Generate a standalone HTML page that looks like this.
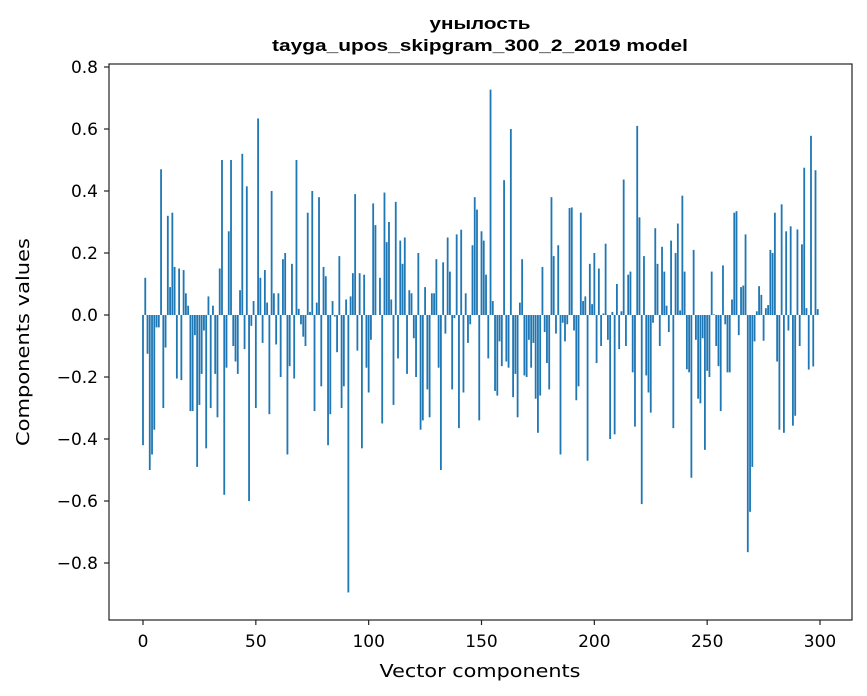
<!DOCTYPE html>
<html><head><meta charset="utf-8"><style>
html,body{margin:0;padding:0;background:#fff;}
svg{display:block;font-family:"DejaVu Sans","Liberation Sans",sans-serif;}
</style></head><body>
<svg id="s" width="867" height="696" viewBox="0 0 867 696" xmlns="http://www.w3.org/2000/svg">
<rect width="867" height="696" fill="#fff"/>
<g id="bars" fill="#1f77b4"></g>
<rect x="109" y="64" width="743" height="556" fill="none" stroke="#222" stroke-width="1.2"/>
<g id="ticks" stroke="#222" stroke-width="1.2"></g>
<g id="labels" font-size="17" fill="#000"></g>
<g font-family="Liberation Sans, Arial, sans-serif" font-weight="bold" font-size="16.5">
<text x="480" y="29" text-anchor="middle" textLength="101" lengthAdjust="spacingAndGlyphs">унылость</text>
<text x="480" y="51" text-anchor="middle" textLength="416" lengthAdjust="spacingAndGlyphs">tayga_upos_skipgram_300_2_2019 model</text>
</g>
<text x="480" y="677" text-anchor="middle" font-size="18" textLength="201" lengthAdjust="spacingAndGlyphs">Vector components</text>
<text transform="translate(29,342) rotate(-90)" text-anchor="middle" font-size="18" textLength="208" lengthAdjust="spacingAndGlyphs">Components values</text>
</svg>
<script>
var v=[-0.42,0.12,-0.125,-0.5,-0.45,-0.37,-0.04,-0.04,0.47,-0.3,-0.105,0.32,0.09,0.33,0.155,-0.205,0.15,-0.21,0.145,0.07,0.03,-0.31,-0.31,-0.065,-0.49,-0.29,-0.19,-0.05,-0.43,0.06,-0.3,0.03,-0.19,-0.33,0.15,0.5,-0.58,-0.17,0.27,0.5,-0.1,-0.15,-0.19,0.08,0.52,-0.11,0.415,-0.6,-0.035,0.045,-0.3,0.634,0.12,-0.09,0.145,0.04,-0.32,0.4,0.07,-0.095,0.07,-0.2,0.18,0.2,-0.45,-0.165,0.165,-0.205,0.5,0.02,-0.03,-0.07,-0.1,0.33,0.01,0.4,-0.31,0.04,0.38,-0.23,0.155,0.125,-0.42,-0.32,0.045,-0.005,-0.12,0.19,-0.3,-0.23,0.05,-0.895,0.06,0.135,0.39,-0.115,0.135,-0.43,0.13,-0.17,-0.25,-0.08,0.36,0.29,0,0.12,-0.35,0.395,0.235,0.3,0.05,-0.29,0.365,-0.14,0.24,0.165,0.25,-0.19,0.08,0.07,-0.075,-0.2,0.2,-0.37,-0.34,0.09,-0.24,-0.33,0.07,0.07,0.18,-0.17,-0.5,0.17,-0.06,0.25,0.14,-0.24,-0.01,0.26,-0.365,0.275,-0.25,0.07,-0.09,-0.03,0.225,0.38,0.34,-0.34,0.27,0.24,0.13,-0.14,0.727,0.045,-0.245,-0.26,-0.085,-0.165,0.435,-0.15,-0.17,0.6,-0.265,-0.19,-0.33,0.04,0.18,-0.195,-0.2,-0.08,-0.17,-0.09,-0.27,-0.38,-0.26,0.155,-0.055,-0.155,-0.24,0.38,0.19,-0.06,0.225,-0.45,-0.025,-0.085,-0.03,0.345,0.347,-0.05,-0.275,-0.23,0.33,0.045,0.06,-0.47,0.165,0.035,0.2,-0.155,0.15,-0.1,0.005,0.23,-0.08,-0.4,0.01,-0.385,0.1,-0.11,0.012,0.437,-0.1,0.13,0.14,-0.185,-0.36,0.61,0.315,-0.61,0.19,-0.195,-0.25,-0.315,-0.025,0.28,0.165,-0.1,0.22,0.14,0.03,-0.055,0.24,-0.365,0.2,0.295,0.015,0.385,0.14,-0.175,-0.185,-0.525,0.21,-0.08,-0.27,-0.285,-0.075,-0.435,-0.18,-0.2,0.14,0.002,-0.1,-0.165,-0.31,0.16,-0.03,-0.185,-0.185,0.05,0.33,0.335,-0.065,0.09,0.095,0.26,-0.765,-0.635,-0.49,-0.085,0.012,0.093,0.065,-0.083,0.022,0.032,0.21,0.2,0.33,-0.15,-0.37,0.357,-0.38,0.27,-0.05,0.286,-0.357,-0.325,0.276,-0.1,0.228,0.475,0.022,-0.176,0.578,-0.166,0.467,0.019];
var NS="http://www.w3.org/2000/svg";
function X(c){return 143+c*2.2567;}
function Y(val){return 315-val*310;}
var g=document.getElementById('bars');
for(var i=0;i<v.length;i++){
 var r=document.createElementNS(NS,'rect');
 var y0=Y(0),y1=Y(v[i]);
 r.setAttribute('x',X(i-0.4));r.setAttribute('width',2.2567*0.8);
 r.setAttribute('y',Math.min(y0,y1));r.setAttribute('height',Math.abs(y1-y0));
 g.appendChild(r);
}
var t=document.getElementById('ticks'),L=document.getElementById('labels');
function line(x1,y1,x2,y2){var l=document.createElementNS(NS,'line');l.setAttribute('x1',x1);l.setAttribute('y1',y1);l.setAttribute('x2',x2);l.setAttribute('y2',y2);t.appendChild(l);}
function txt(x,y,s,a){var e=document.createElementNS(NS,'text');e.setAttribute('x',x);e.setAttribute('y',y);e.setAttribute('text-anchor',a);e.textContent=s;L.appendChild(e);}
[0,50,100,150,200,250,300].forEach(function(c){var x=X(c);line(x,620,x,625);txt(x,647,String(c),'middle');});
[0.8,0.6,0.4,0.2,0,-0.2,-0.4,-0.6,-0.8].forEach(function(val){var y=Y(val);line(104,y,109,y);var s=val.toFixed(1);if(val<0)s='\u2212'+(-val).toFixed(1);txt(98,y+6,s,'end');});
</script>
</body></html>
